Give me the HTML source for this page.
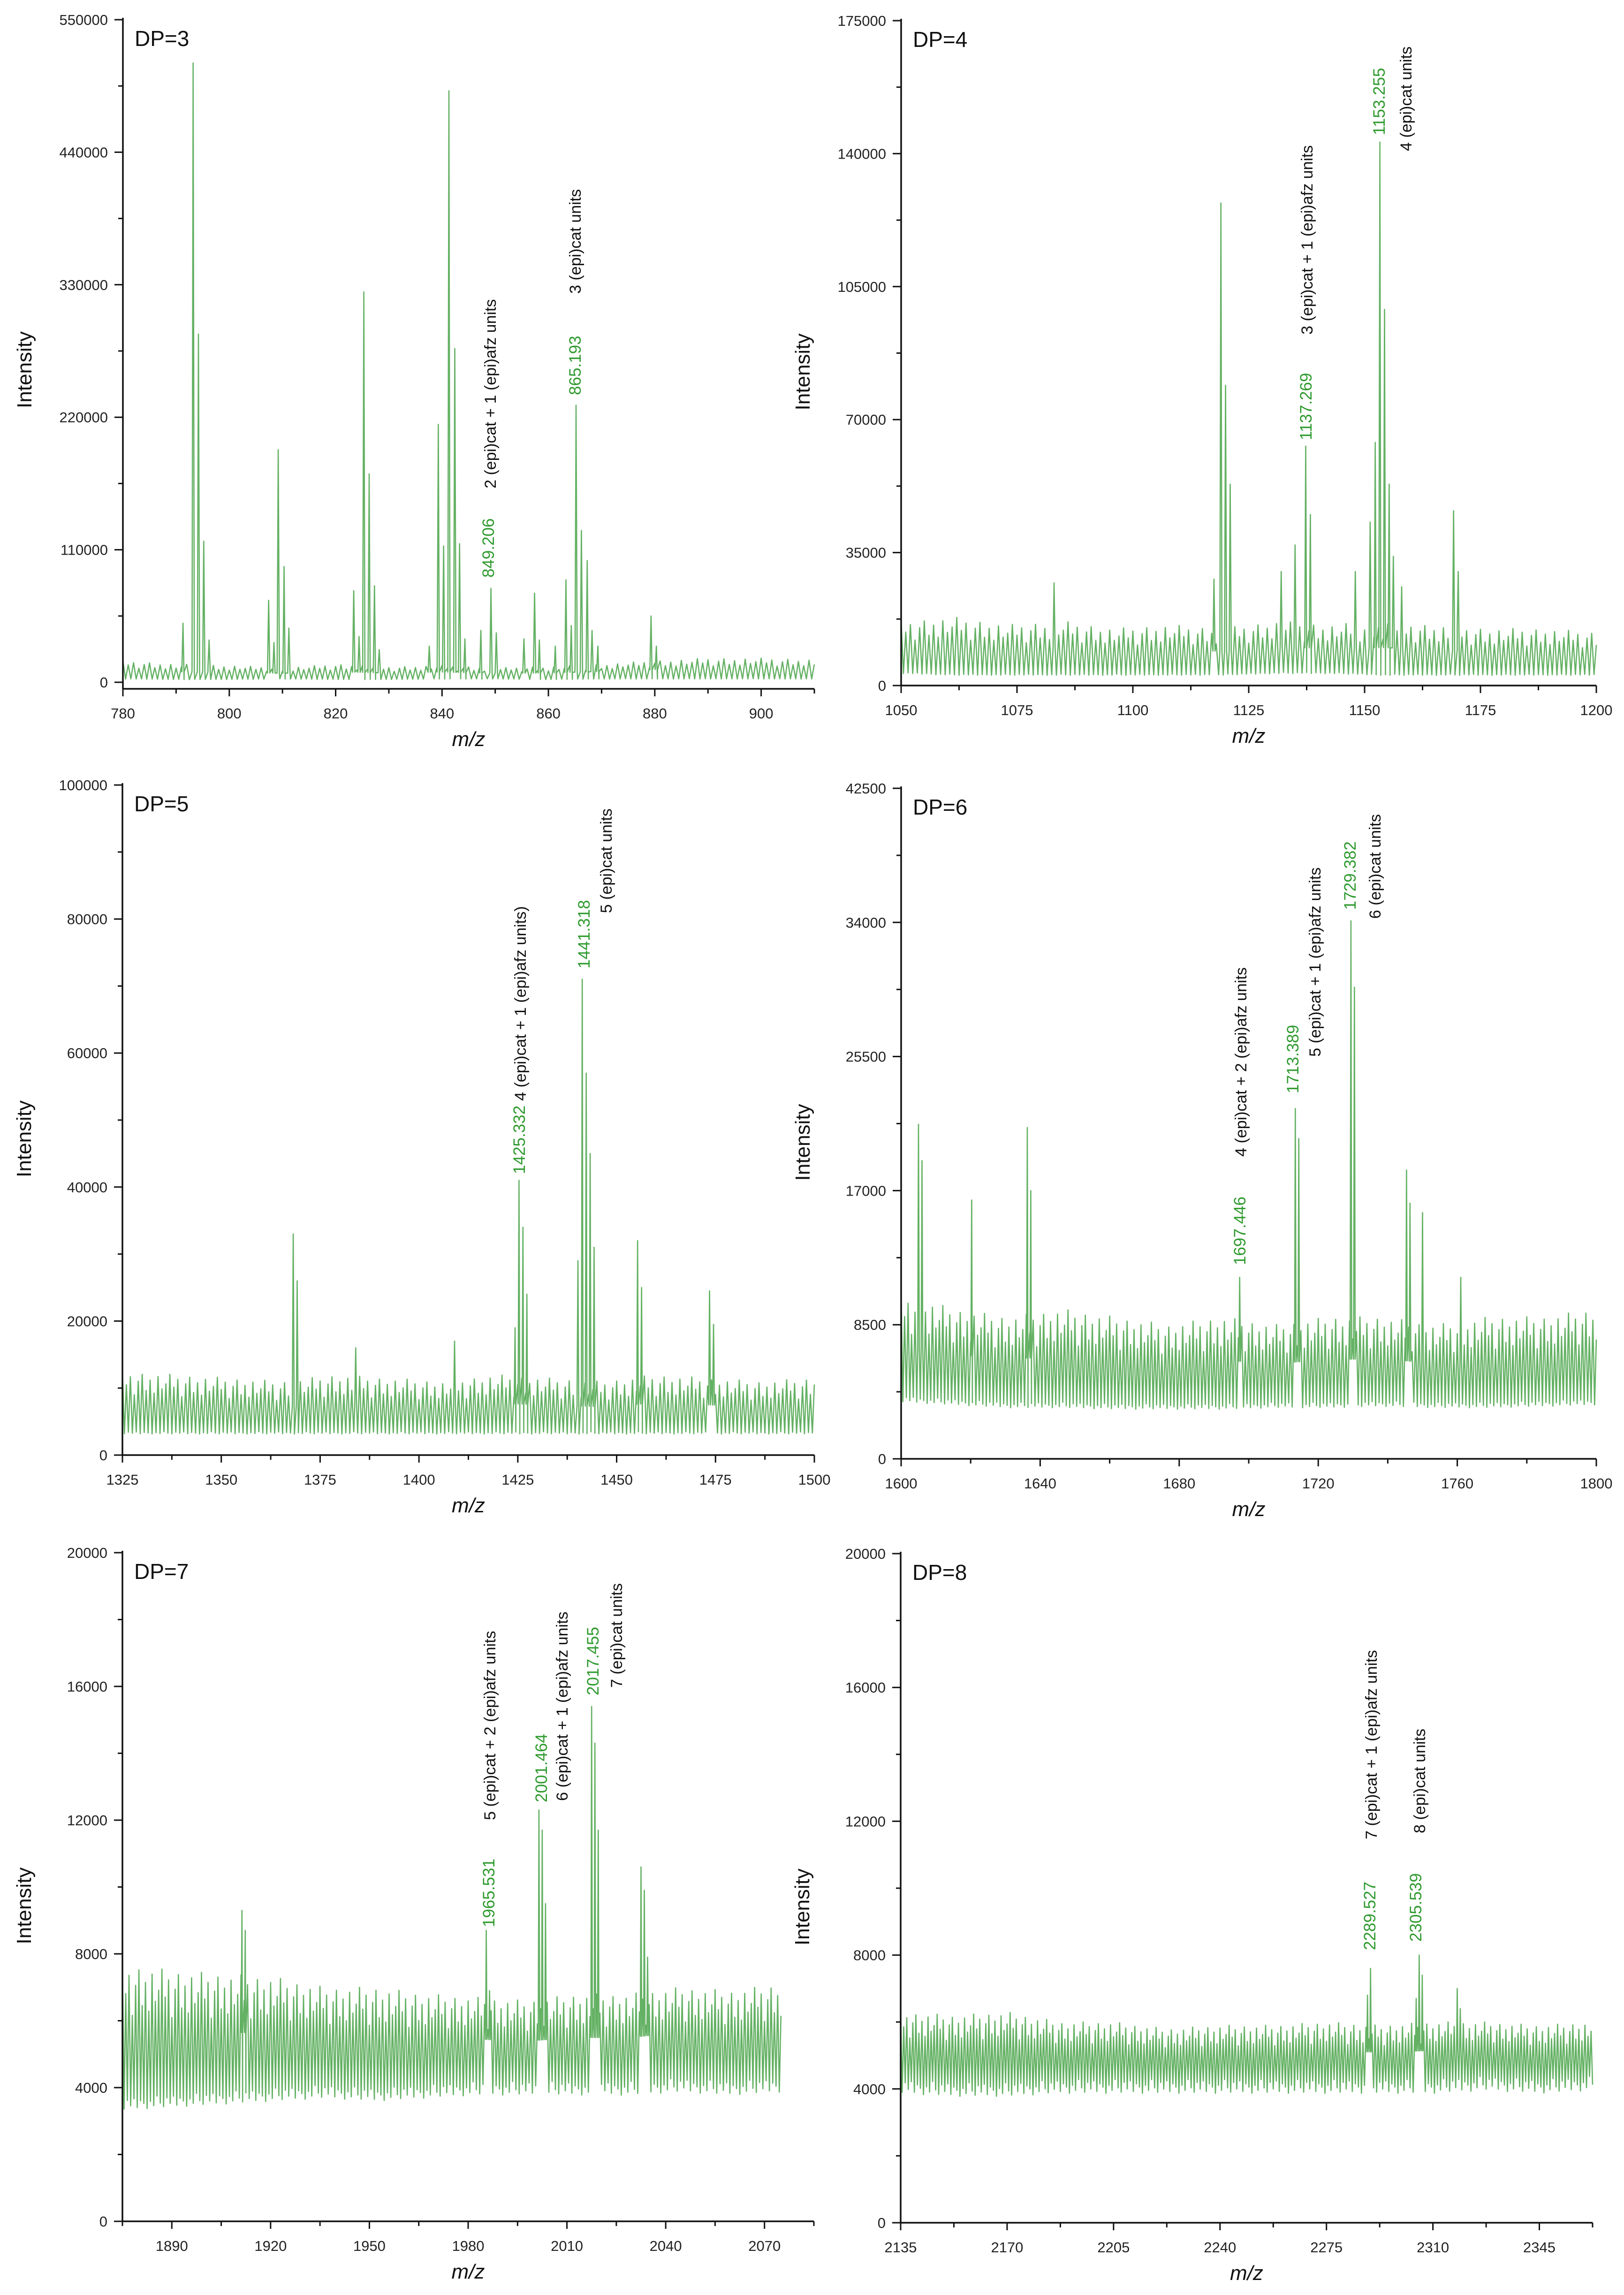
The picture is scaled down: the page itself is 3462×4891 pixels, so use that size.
<!DOCTYPE html>
<html><head><meta charset="utf-8">
<style>
html,body{margin:0;padding:0;background:#fff;}
svg{display:block;}
text{font-family:"Liberation Sans",Arial,sans-serif;}
</style></head>
<body>
<svg id="fig" xmlns="http://www.w3.org/2000/svg" width="3462" height="4891" viewBox="0 0 3462 4891">
<rect width="3462" height="4891" fill="#fff"/>
</svg>
<script>
// ---------- DATA ----------
const dp3PeakMz = [791.3,793.2,794.2,795.2,796.2,807.4,808.4,809.2,810.3,811.2,823.4,824.4,825.3,826.3,827.3,828.2,837.6,839.3,840.3,841.3,842.4,843.3,844.3,847.3,849.2,850.2,855.4,857.4,858.3,861.3,863.3,864.3,865.2,866.2,867.3,868.2,869.3,879.3,880.3];
const dp3PeakI = [49000,514000,289000,117000,35000,68000,33000,193000,96000,45000,76000,38000,324000,173000,80000,27000,30000,214000,113000,491000,277000,115000,36000,43000,78000,41000,36000,74000,35000,30000,85000,47000,230000,126000,101000,43000,30000,55000,30000];
const dp3NoiseHi = [18000,15000,14000,12000,15000,13000,14000,12000,13000,15000,18000,20000,20000,19000];
const dp3NoiseLo = [3000,2500,2500,3000,2500,2500,3000,3000,2500,3000,3000,3000,3000,3000];

const dp4PeakMz = [1083,1117.5,1119.0,1120.0,1121.0,1132,1135,1137.3,1138.3,1148,1151.2,1152.3,1153.3,1154.3,1155.3,1156.2,1158,1169.2,1170.2];
const dp4PeakI = [27000,28000,127000,79000,53000,30000,37000,63000,45000,30000,43000,64000,143000,99000,53000,34000,26000,46000,30000];
const dp4NoiseHi = [17000,18000,16000,17000,15000,16000,15000,17000,16000,17000,16000,15000,15000,14000];
const dp4NoiseLo = [3500,3000,3000,3000,3000,3000,3000,3500,3500,3000,3000,3000,3000,3000];

const dp5PeakMz = [1368.2,1369.2,1384,1409,1424.3,1425.3,1426.3,1427.3,1440.2,1441.3,1442.3,1443.3,1444.3,1455.3,1456.3,1473.5,1474.5];
const dp5PeakI = [33000,26000,16000,17000,19000,41000,34000,24000,29000,71000,57000,45000,31000,32000,25000,24500,19500];
const dp5NoiseHi = [12500,12000,11500,11000,12000,11500,11000,12000,11500,11000,12000,11500,11000,11500];
const dp5NoiseLo = [3500,3500,3500,3500,3500,3500,3500,3500,3500,3500,3500,3500,3500,3500];

const dp6PeakMz = [1605,1606,1620.3,1636.3,1637.3,1697.4,1713.4,1714.4,1729.4,1730.4,1745.4,1746.4,1750,1761];
const dp6PeakI = [21200,18900,16400,21000,17000,11500,22200,20300,34100,29900,18300,16200,15600,11500];
const dp6NoiseHi = [10500,9500,9000,9500,9000,8500,9000,8500,9000,9000,8500,9000,9000,9500];
const dp6NoiseLo = [4000,3800,3600,3600,3500,3500,3500,3600,3600,3700,3600,3600,3700,3800];

const dp7PeakMz = [1911.3,1912.3,1985.5,1986.5,2001.5,2002.5,2003.5,2017.5,2018.5,2019.5,2032.5,2033.5,2034.5];
const dp7PeakI = [9300,8700,8700,6900,12300,11700,9500,15400,14300,11700,10600,9900,7900];
const dp7NoiseHi = [7700,7500,7400,7300,7000,7000,6800,6700,6600,6800,6800,7000,6900,7100];
const dp7NoiseLo = [3700,3800,3900,4000,4100,4000,4100,4200,4200,4200,4200,4300,4200,4300];

const dp8PeakMz = [2288.5,2289.5,2304.5,2305.5,2306.5,2318,2319];
const dp8PeakI = [6800,7600,6700,8000,7400,7000,6400];
const dp8NoiseHi = [6300,6200,6300,6000,6000,5800,5900,5900,6000,5900,6000,6000,5900,6000];
const dp8NoiseLo = [4300,4200,4200,4300,4300,4300,4300,4300,4300,4300,4300,4400,4300,4400];

const noiseRipple = [1.0,0.78,0.92,0.62,0.85,0.97,0.7,0.88,0.66,0.95,0.74,0.83];

const dp3Notes = ["849.206","2 (epi)cat + 1 (epi)afz units","865.193","3 (epi)cat units"];
const dp4Notes = ["1137.269","3 (epi)cat + 1 (epi)afz units","1153.255","4 (epi)cat units"];
const dp5Notes = ["1425.332","4 (epi)cat + 1 (epi)afz units)","1441.318","5 (epi)cat units"];
const dp6Notes = ["1697.446","4 (epi)cat + 2 (epi)afz units","1713.389","5 (epi)cat + 1 (epi)afz units","1729.382","6 (epi)cat units"];
const dp7Notes = ["1965.531","5 (epi)cat + 2 (epi)afz units","2001.464","6 (epi)cat + 1 (epi)afz units","2017.455","7 (epi)cat units"];
const dp8Notes = ["2289.527","7 (epi)cat + 1 (epi)afz units","2305.539","8 (epi)cat units"];

// ---------- LAYOUT ----------
const NS = "http://www.w3.org/2000/svg";
const svg = document.getElementById('fig');
function mk(tag, attrs, parent){
  const e = document.createElementNS(NS, tag);
  for (const k in attrs) e.setAttribute(k, attrs[k]);
  (parent||svg).appendChild(e);
  return e;
}
const panels = [
 {key:'dp3',label:'DP=3',L:262,R:1736,T:42,B:1454,axisY:1468,xmin:780,xmax:910,xstep:20,ymax:550000,ystep:110000,dmax:910,step:1,
  mz:dp3PeakMz,I:dp3PeakI,hi:dp3NoiseHi,lo:dp3NoiseLo,notes:dp3Notes,
  notePos:[[1041,1231,'g'],[1045,1041,'k'],[1226,842,'g'],[1226,626,'k']]},
 {key:'dp4',label:'DP=4',L:1921,R:3403,T:44,B:1461,axisY:1461,xmin:1050,xmax:1200,xstep:25,ymax:175000,ystep:35000,dmax:1200,step:1,
  mz:dp4PeakMz,I:dp4PeakI,hi:dp4NoiseHi,lo:dp4NoiseLo,notes:dp4Notes,
  notePos:[[2784,938,'g'],[2786,713,'k'],[2940,288,'g'],[2997,322,'k']]},
 {key:'dp5',label:'DP=5',L:261,R:1736,T:1673,B:3101,axisY:3101,xmin:1325,xmax:1500,xstep:25,ymax:100000,ystep:20000,dmax:1500,step:1,
  mz:dp5PeakMz,I:dp5PeakI,hi:dp5NoiseHi,lo:dp5NoiseLo,notes:dp5Notes,
  notePos:[[1107,2502,'g'],[1109,2346,'k'],[1245,2064,'g'],[1292,1946,'k']]},
 {key:'dp6',label:'DP=6',L:1921,R:3403,T:1680,B:3109,axisY:3109,xmin:1600,xmax:1800,xstep:40,ymax:42500,ystep:8500,dmax:1800,step:1,
  mz:dp6PeakMz,I:dp6PeakI,hi:dp6NoiseHi,lo:dp6NoiseLo,notes:dp6Notes,
  notePos:[[2643,2696,'g'],[2645,2465,'k'],[2756,2330,'g'],[2803,2252,'k'],[2878,1939,'g'],[2931,1958,'k']]},
 {key:'dp7',label:'DP=7',L:261,R:1735,T:3309,B:4734,axisY:4734,xmin:1875,xmax:2085,xstep:30,ymax:20000,ystep:4000,dmax:2075,step:1,
  mz:dp7PeakMz,I:dp7PeakI,hi:dp7NoiseHi,lo:dp7NoiseLo,notes:dp7Notes,
  notePos:[[1042,4107,'g'],[1044,3879,'k'],[1154,3841,'g'],[1198,3838,'k'],[1264,3613,'g'],[1314,3597,'k']]},
 {key:'dp8',label:'DP=8',L:1920,R:3395,T:3311,B:4737,axisY:4737,xmin:2135,xmax:2362.5,xstep:35,ymax:20000,ystep:4000,dmax:2362.5,step:1,
  mz:dp8PeakMz,I:dp8PeakI,hi:dp8NoiseHi,lo:dp8NoiseLo,notes:dp8Notes,
  notePos:[[2920,4156,'g'],[2923,3920,'k'],[3018,4138,'g'],[3026,3907,'k']]}
];

function env(arr, m, p){
  const f = (m - p.xmin) / (p.dmax - p.xmin) * (arr.length - 1);
  const i = Math.max(0, Math.min(arr.length - 2, Math.floor(f)));
  const t = Math.max(0, Math.min(1, f - i));
  return arr[i] * (1 - t) + arr[i+1] * t;
}

panels.forEach(p=>{
  const g = mk('g',{});
  
  
  const xs = v => p.L + (v - p.xmin) / (p.xmax - p.xmin) * (p.R - p.L);
  const ys = v => p.B - v / p.ymax * (p.B - p.T);

  const pts = [];
  let k = 0;
  for (let m = p.xmin; m <= p.dmax + 1e-9; m += p.step/2, k++){
    const lo = env(p.lo, m, p), hi = env(p.hi, m, p);
    if (k % 2 === 0){
      const r = noiseRipple[(k/2) % noiseRipple.length];
      pts.push([m, lo + (hi - lo) * r]);
    } else {
      const r = noiseRipple[((k-1)/2 + 5) % noiseRipple.length];
      pts.push([m, lo * (0.9 + 0.25 * (1 - r))]);
    }
  }
  const base = pts.filter(q => !p.mz.some(pm => Math.abs(pm - q[0]) < 0.2));
  p.mz.forEach((pm,i)=>{
    const lo = env(p.lo, pm, p), hi = env(p.hi, pm, p);
    base.push([pm - 0.22, (lo + hi) / 2]);
    base.push([pm, p.I[i]]);
    base.push([pm + 0.22, (lo + hi) / 2]);
  });
  base.sort((a,b)=>a[0]-b[0]);
  const d = base.map((q,i)=>(i?'L':'M') + xs(q[0]).toFixed(1) + ' ' + ys(q[1]).toFixed(1)).join(' ');
  const line = mk('path',{d:d, fill:'none', stroke:'#3d9e3d', 'stroke-width':2.6, 'stroke-opacity':0.8, 'stroke-linejoin':'round'}, g);
  
  

  const ya = mk('line',{x1:p.L,y1:p.T-4,x2:p.L,y2:p.axisY,stroke:'#111','stroke-width':3.5}, g);
  
  
  const xa = mk('line',{x1:p.L,y1:p.axisY,x2:p.R,y2:p.axisY,stroke:'#111','stroke-width':3.5}, g);
  
  

  for (let v = 0; v <= p.ymax + 1e-6; v += p.ystep/2){
    const y = ys(v);
    const major = Math.abs((v / p.ystep) - Math.round(v / p.ystep)) < 1e-6;
    mk('line',{x1:p.L - (major?18:10),y1:y,x2:p.L,y2:y,stroke:'#111','stroke-width':3}, g);
    if (major){
      const t = mk('text',{x:p.L-32,y:y+11,'text-anchor':'end','font-size':31,fill:'#222'}, g);
      t.textContent = String(Math.round(v));
      
      
    }
  }
  const half = p.xstep/2;
  for (let v = Math.ceil(p.xmin/half - 1e-9)*half; v <= p.xmax + 1e-6; v += half){
    const x = xs(v);
    const major = Math.abs(v/p.xstep - Math.round(v/p.xstep)) < 1e-6;
    mk('line',{x1:x,y1:p.axisY,x2:x,y2:p.axisY + (major?16:10),stroke:'#111','stroke-width':3}, g);
    if (major){
      const t = mk('text',{x:x,y:p.axisY+63,'text-anchor':'middle','font-size':31,fill:'#222'}, g);
      t.textContent = String(v);
      
      
    }
  }
  const xt = mk('text',{x:(p.L+p.R)/2,y:p.axisY+122,'text-anchor':'middle','font-size':44,'font-style':'italic',fill:'#111'}, g);
  xt.textContent = 'm/z';
  
  
  const cy = (p.T+p.B)/2 + 40, cx = p.L - 195;
  const yt = mk('text',{x:cx,y:cy,'text-anchor':'middle','font-size':44,fill:'#111',transform:`rotate(-90 ${cx} ${cy})`}, g);
  yt.textContent = 'Intensity';
  
  
  const lb = mk('text',{x:p.L+25,y:p.T+56,'font-size':46,fill:'#111'}, g);
  lb.textContent = p.label;
  
  

  p.notes.forEach((s,i)=>{
    const [x,y,c] = p.notePos[i];
    const ax = x + 12;
    const t = mk('text',{x:ax,y:y,'font-size':c==='g'?35:34,fill:c==='g'?'#2f9a2f':'#111',transform:`rotate(-90 ${ax} ${y})`}, g);
    t.textContent = s;
    
    
  });
});
</script>
</body></html>
